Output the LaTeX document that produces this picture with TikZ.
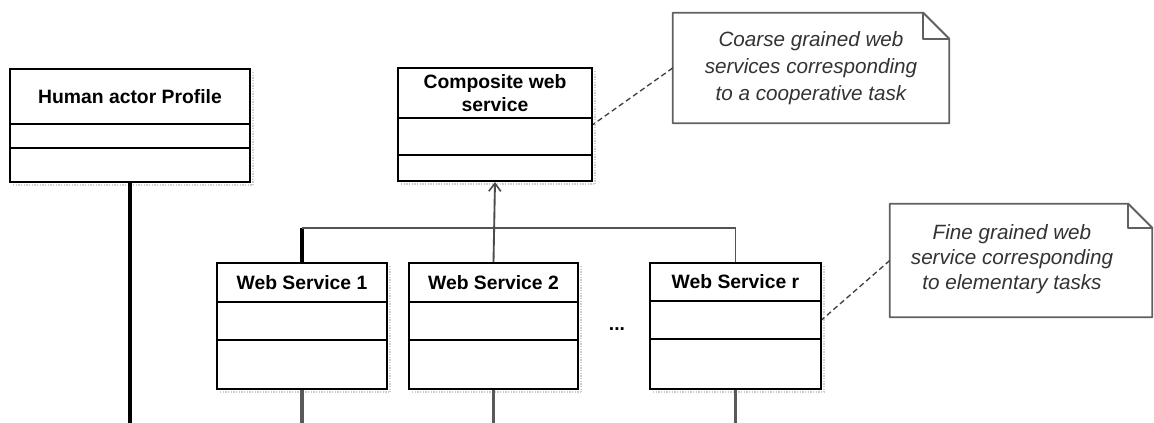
\documentclass[tikz,border=0pt]{standalone}
\usepackage{fontspec}
\setmainfont{Liberation Sans}
\usetikzlibrary{fit,calc,arrows.meta}
\newcommand\umlcls[8]{%
  \draw[shadowline] ({#2+3},{#5+3}) -- ({#4+3},{#5+3});
  \draw[shadowline] ({#2+3},{#6+3}) -- ({#4},{#6+3});
  \draw[shadowline] ({#2+3},{#7+3}) -- ({#4},{#7+3});
  \draw[shadowline] ({#4+3},{#3+3}) -- ({#4+3},{#5+3});
  \node[clsbox, fit={(#2,#3) (#4,#5)}] (#1) {};
  \draw[clsline] (#1.west |- 0,#6) -- (#1.east |- 0,#6);
  \draw[clsline] (#1.west |- 0,#7) -- (#1.east |- 0,#7);
  \node[hdr] (#1-t) at ({(#2+#4)/2},{(#3+#6)/2}) {#8};
}
\newcommand\umlnote[6]{%
  \node[fit={(#2,#3) (#4,#5)}, inner sep=0pt] (#1) {};
  \draw[notebody] (#1.north west) -- ($(#1.north east)+(-#6,0)$) -- ($(#1.north east)+(0,#6)$) -- (#1.south east) -- (#1.south west) -- cycle;
  \draw[notebody] ($(#1.north east)+(-#6,0)$) -- ($(#1.north east)+(-#6,#6)$) -- ($(#1.north east)+(0,#6)$);
}
\begin{document}
\begin{tikzpicture}[x=0.75pt,y=-0.75pt,
  clsbox/.style={draw=black, line width=1.5pt, inner sep=0pt, fill=white},
  clsline/.style={draw=black, line width=1.4pt},
  shadowline/.style={draw=gray!40, line width=1pt, densely dotted},
  hdr/.style={font=\fontsize{14.5}{17.5}\selectfont\bfseries, align=center, inner sep=0pt},
  notebody/.style={draw=gray!75!black, line width=1.4pt, line join=round},
  notetext/.style={font=\fontsize{15.5}{20}\selectfont\itshape, text=black!80, align=center, inner sep=0pt},
  dashlink/.style={draw=black!75, line width=1pt, dash pattern=on 4pt off 2.5pt},
  thickblack/.style={draw=black, line width=3pt},
  thickgray/.style={draw=gray!70!black, line width=2.4pt},
  busline/.style={draw=gray!65!black, line width=1.3pt},
  genarrow/.style={draw=gray!60!black, line width=1.4pt, -{Straight Barb[length=6pt,width=9pt,line width=1.2pt]}}]
\useasboundingbox (0,0) rectangle (1154,423);
\fill[white] (0,0) rectangle (1154,423);

\coordinate (bus) at (0,228);
\coordinate (bottom) at (0,423);

% class boxes
\umlcls{ha}{10}{69}{250}{182}{124}{148}{Human actor Profile}
\umlcls{comp}{398}{68}{592}{181}{118}{155}{Composite web\\service}
\umlcls{ws1}{217}{263}{387}{389}{302}{340}{Web Service 1}
\umlcls{ws2}{409}{263}{578}{389}{302}{340}{Web Service 2}
\umlcls{wsr}{650}{263}{821}{389}{301}{339}{Web Service r}

\node[font=\fontsize{14.5}{17}\selectfont\bfseries, inner sep=0pt] (dots) at (617,329) {...};

% notes
\umlnote{n1}{673}{13}{949}{123}{26}
\node[notetext, font=\fontsize{15.5}{20.5}\selectfont\itshape] (n1-t) at (811,68) {Coarse grained web\\services corresponding\\to a cooperative task};
\umlnote{n2}{890}{204}{1152}{317}{24}
\node[notetext, font=\fontsize{15.5}{19}\selectfont\itshape] (n2-t) at (1012,259) {Fine grained web\\service corresponding\\to elementary tasks};

% note links
\draw[dashlink] (n1.west) -- (comp.east);
\draw[dashlink] (n2.west) -- ($(wsr.north east)!0.45!(wsr.south east)$);

% generalization
\draw[thickblack] (ws1.north) -- (ws1.north |- bus);
\draw[busline] (ws1.north |- bus) -| (wsr.north);
\draw[genarrow] (ws2.north) -- (comp.south);

% lines going down
\draw[thickblack, line width=3.5pt] (ha.south) -- (ha.south |- bottom);
\draw[thickgray] (ws1.south) -- (ws1.south |- bottom);
\draw[thickgray] (ws2.south) -- (ws2.south |- bottom);
\draw[thickgray] (wsr.south) -- (wsr.south |- bottom);
\end{tikzpicture}
\end{document}
